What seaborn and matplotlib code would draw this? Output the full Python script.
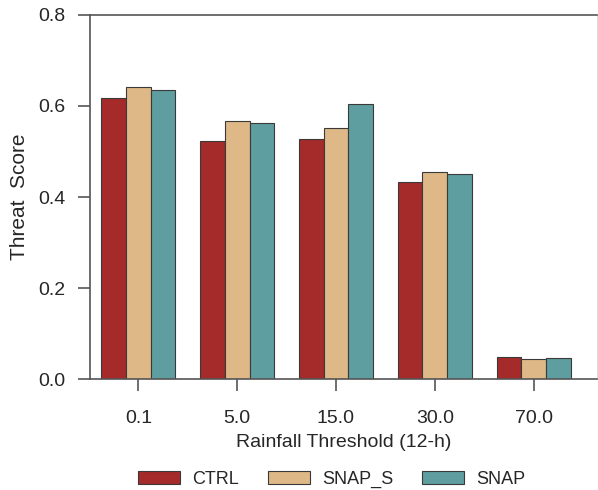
import pandas as pd
import seaborn as sns
import matplotlib.pyplot as plt

# Values
thresholds = ['0.1', '5.0', '15.0', '30.0', '70.0']
ctrl = [0.617, 0.523, 0.528, 0.433, 0.048]
snap_s = [0.641, 0.567, 0.551, 0.454, 0.045]
snap = [0.636, 0.562, 0.605, 0.451, 0.047]
experiments = ['CTRL', 'SNAP_S', 'SNAP']
colors = ['#A52A2A', '#DEB887', '#5F9EA0']

df = pd.DataFrame({
    'threshold': thresholds * 3,
    'score': ctrl + snap_s + snap,
    'exp': [e for e in experiments for _ in thresholds],
})

sns.set_style('white')
plt.rcParams['font.family'] = ['Liberation Sans', 'DejaVu Sans']
plt.rcParams['font.size'] = 14

fig = plt.figure(figsize=(5.98, 4.9), dpi=100)
ax = fig.add_axes([0.1505, 0.2265, 0.8475, 0.7429])

sns.barplot(data=df, x='threshold', y='score', hue='exp', order=thresholds,
            hue_order=experiments, palette=colors, saturation=1, width=0.75,
            gap=0, edgecolor='#3a3a3a', linewidth=0.8, legend=False, ax=ax)

ax.set_xlim(-0.49, 4.64)
ax.set_ylim(0, 0.8)
ax.set_yticks([0.0, 0.2, 0.4, 0.6, 0.8])
ax.set_yticklabels(['0.0', '0.2', '0.4', '0.6', '0.8'])
ax.tick_params(axis='both', direction='out', length=8.5, width=1.2,
               color='#555555', labelsize=14, left=True, bottom=True)
ax.tick_params(axis='y', pad=9)
ax.tick_params(axis='x', pad=14)

for side in ['left', 'top', 'bottom']:
    ax.spines[side].set_color('#555555')
    ax.spines[side].set_linewidth(1.2)
ax.spines['right'].set_color('#dddddd')
ax.spines['right'].set_linewidth(0.8)

ax.set_xlabel('Rainfall Threshold (12-h)', fontsize=14, labelpad=5)
ax.set_ylabel('Threat  Score', fontsize=15, labelpad=7)

handles = [plt.Rectangle((0, 0), 1, 1, facecolor=c, edgecolor='#3a3a3a', linewidth=0.8)
           for c in colors]
fig.legend(handles, experiments, loc='center', bbox_to_anchor=(0.555, 0.022),
           ncol=3, frameon=False, fontsize=13, handlelength=2.3,
           handleheight=0.75, handletextpad=0.7, columnspacing=1.6)

fig.savefig('out.png', dpi=100)
